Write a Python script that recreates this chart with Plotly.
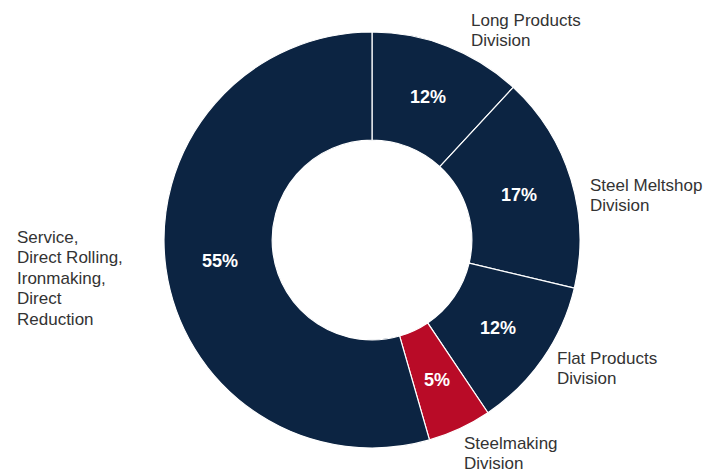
import math
import plotly.graph_objects as go

divisions = ["Long Products Division", "Steel Meltshop Division", "Flat Products Division",
             "Steelmaking Division", "Service, Direct Rolling, Ironmaking, Direct Reduction"]
shares = [12, 17, 12, 5, 55]
share_labels = ["12%", "17%", "12%", "5%", "55%"]
label_lines = [
    ["Long Products", "Division"],
    ["Steel Meltshop", "Division"],
    ["Flat Products", "Division"],
    ["Steelmaking", "Division"],
    ["Service,", "Direct Rolling,", "Ironmaking,", "Direct", "Reduction"],
]

NAVY = "#0c2442"
RED = "#b90b27"
colors = [NAVY, NAVY, NAVY, RED, NAVY]

W, H = 708, 473
cx, cy, R = 372, 240, 208
HOLE = 0.48

fig = go.Figure(go.Pie(
    labels=divisions, values=shares, text=share_labels,
    textinfo="none", sort=False, direction="clockwise", rotation=0, hole=HOLE,
    marker=dict(colors=colors, line=dict(color="white", width=1.2)),
    domain=dict(x=[(cx - R) / W, (cx + R) / W], y=[(H - cy - R) / H, (H - cy + R) / H]),
    showlegend=False, hoverinfo="label+text",
))

annotations = []

# percentage labels at the middle of the ring, at each slice's mid angle
total = sum(shares)
r_mid = R * (1 + HOLE) / 2
cum = 0
for v, t in zip(shares, share_labels):
    mid = (cum + v / 2) / total * 2 * math.pi
    cum += v
    px = cx + r_mid * math.sin(mid)
    py = cy - r_mid * math.cos(mid)
    annotations.append(dict(
        x=px / W, y=1 - py / H, xref="paper", yref="paper",
        xanchor="center", yanchor="middle", text=t, showarrow=False,
        font=dict(family="Liberation Sans, Arial, sans-serif", size=18, color="white", weight="bold"),
    ))

# category labels (left x, top y of first line) in pixels
label_pos = [(469, 10), (588, 175), (555, 348), (462, 433), (15, 227)]
line_h = 20.5
for lines, (lx, ly) in zip(label_lines, label_pos):
    for i, t in enumerate(lines):
        yc = ly + i * line_h + line_h / 2
        annotations.append(dict(
            x=lx / W, y=1 - yc / H, xref="paper", yref="paper",
            xanchor="left", yanchor="middle", text=t, showarrow=False,
            font=dict(family="Liberation Sans Narrow, Liberation Sans, Arial, sans-serif", size=17, color="#333333"),
        ))

fig.update_layout(
    width=W, height=H, margin=dict(l=0, r=0, t=0, b=0),
    paper_bgcolor="white", plot_bgcolor="white",
    annotations=annotations,
)

fig.write_html("out.html")
